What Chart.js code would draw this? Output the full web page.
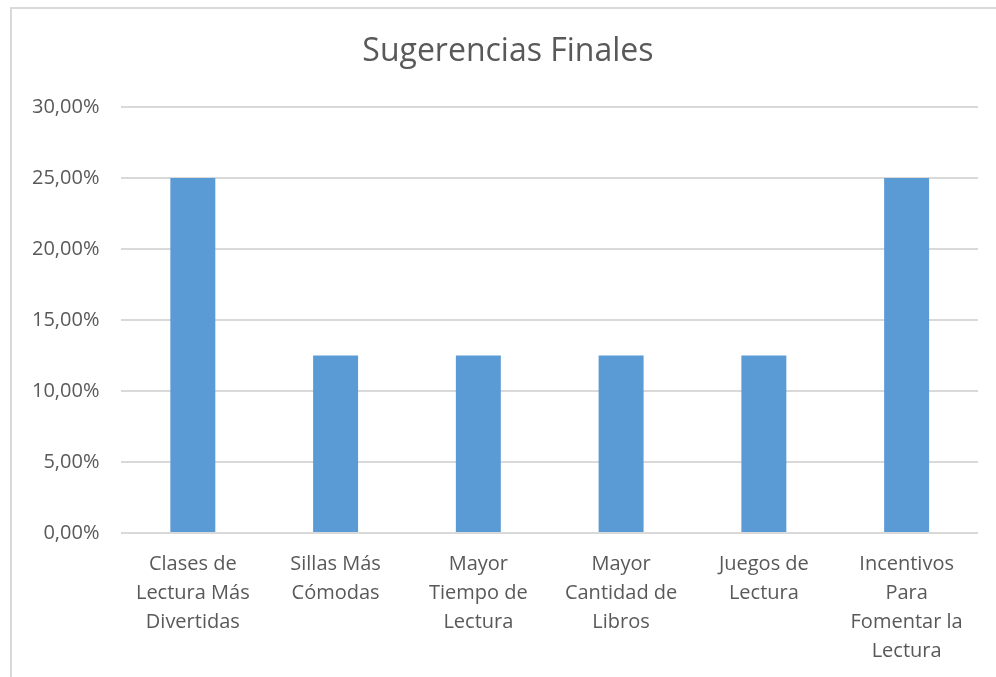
<!DOCTYPE html>
<html>
<head>
<meta charset="utf-8">
<script src="https://cdn.jsdelivr.net/npm/chart.js@4/dist/chart.umd.min.js"></script>
<style>
  html, body { margin: 0; padding: 0; background: #fff; overflow: hidden; }
  #frame {
    position: absolute; left: 10px; top: 7px; width: 1000px; height: 700px;
    border-top: 2px solid #d9d9d9; border-left: 2px solid #d9d9d9; box-sizing: border-box;
  }
  #wrap { position: absolute; left: 0; top: 0; width: 996px; height: 675px; }
</style>
</head>
<body>
<div id="frame"></div>
<div id="wrap"><canvas id="chart"></canvas></div>
<script>
// ── Data ──
const categories = [
  ["Clases de", "Lectura Más", "Divertidas"],
  ["Sillas Más", "Cómodas"],
  ["Mayor", "Tiempo de", "Lectura"],
  ["Mayor", "Cantidad de", "Libros"],
  ["Juegos de", "Lectura"],
  ["Incentivos", "Para", "Fomentar la", "Lectura"]
];
const shares = [0.25, 0.125, 0.125, 0.125, 0.125, 0.25];
const yTicks = [0, 0.05, 0.10, 0.15, 0.20, 0.25, 0.30];
const chartTitle = "Sugerencias Finales";

const txt = "#595959";
const grid = "#d9d9d9";
const fontFam = "'Open Sans', 'Noto Sans', sans-serif";

function pct(v) { return (v * 100).toFixed(2).replace(".", ",") + "%"; }

// title sits a bit right of the canvas centre, like the original frame
const titlePlugin = {
  id: "offsetTitle",
  afterDraw(chart) {
    const ctx = chart.ctx;
    ctx.save();
    ctx.font = `32px ${fontFam}`;
    ctx.fillStyle = txt;
    ctx.textAlign = "center";
    ctx.textBaseline = "middle";
    ctx.fillText(chartTitle, chart.width * 0.51, 52);
    ctx.restore();
  }
};

new Chart(document.getElementById("chart"), {
  type: "bar",
  data: {
    labels: categories,
    datasets: [{
      label: "Sugerencias",
      data: shares,
      backgroundColor: "#5b9bd5",
      borderWidth: 0,
      barPercentage: 0.315,
      categoryPercentage: 1
    }]
  },
  options: {
    responsive: true, maintainAspectRatio: false, animation: false,
    layout: { padding: { left: 10, right: 18, top: 107, bottom: 0 } },
    plugins: {
      legend: { display: false },
      tooltip: { enabled: false },
      title: { display: false }
    },
    scales: {
      x: {
        grid: { display: false },
        border: { display: false },
        ticks: {
          color: txt, padding: 9, maxRotation: 0, autoSkip: false,
          font: { family: fontFam, size: 20, lineHeight: 1.45 }
        }
      },
      y: {
        min: 0, max: 0.3,
        afterBuildTicks: axis => { axis.ticks = yTicks.map(v => ({ value: v })); },
        grid: { color: grid, lineWidth: 2, drawTicks: false },
        border: { display: false },
        ticks: {
          color: txt, padding: 22,
          font: { family: fontFam, size: 20 },
          callback: v => pct(v)
        }
      }
    }
  },
  plugins: [titlePlugin]
});
</script>
</body>
</html>
